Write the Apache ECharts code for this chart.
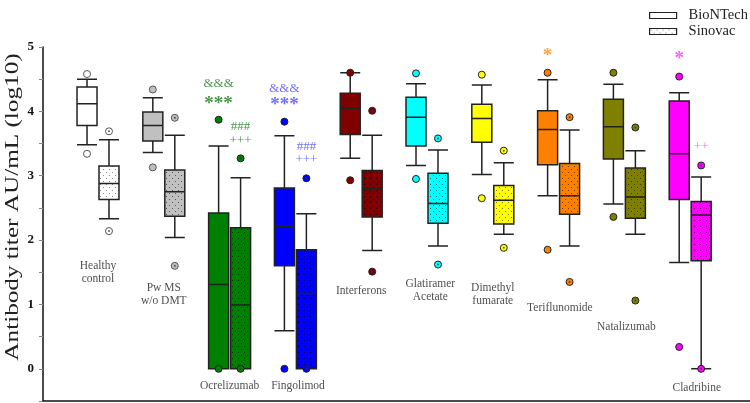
<!DOCTYPE html>
<html><head><meta charset="utf-8">
<script src="https://cdn.jsdelivr.net/npm/echarts@6/dist/echarts.min.js"></script>
<style>html,body{margin:0;padding:0;background:#fff}#c{width:750px;height:403px}</style>
</head><body><div id="c"></div>
<script>
// ---------- data ----------
const categories = ['Healthy\ncontrol','Pw MS\nw/o DMT','Ocrelizumab','Fingolimod','Interferons','Glatiramer\nAcetate','Dimethyl\nfumarate','Teriflunomide','Natalizumab','Cladribine'];
const seriesNames = ['BioNTech','Sinovac'];
// box stats: [min, Q1, median, Q3, max]  (log10 AU/mL)
const biontechBox = [
  [3.48,3.78,4.12,4.38,4.50],
  [3.36,3.54,3.78,3.99,4.21],
  [0.00,0.00,1.31,2.42,3.46],
  [0.59,1.60,2.21,2.81,3.62],
  [3.27,3.64,4.05,4.28,4.60],
  [3.16,3.46,3.91,4.22,4.43],
  [3.02,3.52,3.89,4.11,4.41],
  [2.69,3.17,3.72,4.01,4.49],
  [2.56,3.26,3.76,4.19,4.42],
  [1.65,2.63,3.34,4.16,4.29]
];
const sinovacBox = [
  [2.33,2.63,2.88,3.15,3.56],
  [2.04,2.37,2.75,3.09,3.63],
  [0.00,0.00,0.99,2.19,2.97],
  [0.00,0.00,1.17,1.85,2.41],
  [1.84,2.36,2.80,3.08,3.63],
  [1.91,2.26,2.57,3.04,3.40],
  [2.09,2.25,2.62,2.85,3.20],
  [1.91,2.40,2.69,3.19,3.71],
  [2.09,2.34,2.67,3.12,3.39],
  [0.00,1.68,2.39,2.60,2.98]
];
const biontechOutliers = [[4.58,3.34],[4.34,3.13],[3.87,0],[3.84,0],[4.60,2.93],[4.59,2.95],[4.57,2.65],[4.60,1.85],[4.60,2.36],[4.54,0.34]];
const sinovacOutliers  = [[3.69,2.14],[3.90,1.60],[3.27,0],[2.96,0],[4.01,1.51],[3.58,1.62],[3.39,1.88],[3.91,1.35],[3.75,1.06],[3.16,0]];
const yTickLabels = [0,1,2,3,4,5];
// significance marks: category, vaccine (0 BioNTech / 1 Sinovac), text, level
const sigCats  = [2,2,2,2,3,3,3,3,7,9,9];
const sigSer   = [0,0,1,1,0,0,1,1,0,0,1];
const sigText  = ['&&&','***','###','+++','&&&','***','###','+++','*','*','++'];
const sigLevel = [4.43,4.12,3.76,3.54,4.36,4.09,3.45,3.25,4.86,4.81,3.45];

// ---------- styling / layout ----------
const groupColors = ['#ffffff','#c0c0c0','#008000','#0000ff','#800000','#00ffff','#ffff00','#ff8000','#808000','#ff00ff'];
const sigColors = {2:'#1a7a1a',3:'#4a4aff',7:'#ff8c1a',9:'#ff33ff'};
const OFF = 0.167;
const catLabelPos = [[0,1.50],[1,1.16],[2,-0.26],[3.04,-0.26],[4,1.21],[5.05,1.21],[6,1.16],[7.02,0.95],[8.03,0.65],[9.1,-0.30]];
const SERIF = 'Liberation Serif, Times New Roman, serif';

function pattern(color, dot){
  const c = document.createElement('canvas'); c.width = 6; c.height = 6;
  const g = c.getContext('2d');
  g.fillStyle = color; g.fillRect(0,0,6,6);
  g.fillStyle = dot; g.fillRect(1,1,1,1); g.fillRect(4,4,1,1);
  return {image:c, repeat:'repeat'};
}
const dotCol = i => i === 0 ? '#888' : 'rgba(0,0,0,0.55)';

const chart = echarts.init(document.getElementById('c'), null, {renderer:'canvas'});

const bData = biontechBox.map((b,i)=>({value:[i-OFF].concat(b), itemStyle:{color:groupColors[i]}}));
const sData = sinovacBox.map((b,i)=>({value:[i+OFF].concat(b), itemStyle:{color:pattern(groupColors[i], dotCol(i))}}));

const bOut = [], sOut = [], sOutDot = [];
biontechOutliers.forEach((arr,i)=>arr.forEach(v=>bOut.push({value:[i-OFF,v], itemStyle:{color:groupColors[i], borderColor: i<2?'#555':'#222'}})));
sinovacOutliers.forEach((arr,i)=>arr.forEach(v=>{
  sOut.push({value:[i+OFF,v], itemStyle:{color:groupColors[i], borderColor: i<2?'#555':'#222'}});
  sOutDot.push([i+OFF,v]);
}));

const catLabels = categories.map((c,i)=>({name:c, value:catLabelPos[i]}));
const sigData = sigText.map((t,k)=>{
  const big = t.indexOf('*')>=0;
  return {name:t, value:[sigCats[k] + (sigSer[k]?OFF:-OFF), sigLevel[k]],
    label:{color:sigColors[sigCats[k]], fontSize: big?19:13, fontWeight: big?'bold':'normal', fontFamily: SERIF}};
});

const axisX = (show)=>({type:'value', min:-0.836, max:9.909, show:show,
  axisLine:{show:true, onZero:false, lineStyle:{color:'#111', width:1.5}},
  axisTick:{show:false}, axisLabel:{show:false}, splitLine:{show:false}});

chart.setOption({
  animation:false,
  backgroundColor:'#fff',
  grid:{left:43, right:0, top:47, bottom:2, containLabel:false},
  legend:{
    orient:'vertical', left:644, top:3, itemWidth:27, itemHeight:6, itemGap:1,
    selectedMode:false,
    textStyle:{fontFamily:SERIF, fontSize:14.5, color:'#222', padding:[0,0,0,7]},
    data:[
      {name:'BioNTech', icon:'rect', itemStyle:{color:'#fff', borderColor:'#222', borderWidth:1.2}},
      {name:'Sinovac', icon:'rect', itemStyle:{color:pattern('#fff','#777'), borderColor:'#222', borderWidth:1.2}}
    ]
  },
  xAxis:[axisX(true), axisX(false)],
  yAxis:{
    type:'value', min:-0.5, max:5, interval:0.5,
    axisLine:{show:true, onZero:false, lineStyle:{color:'#111', width:1.5}},
    axisTick:{show:true, length:4, lineStyle:{color:'#888'}},
    splitLine:{show:false},
    axisLabel:{margin:9, fontFamily:SERIF, fontWeight:'bold', fontSize:13, color:'#111',
      formatter:v=>{const r=Math.round(v); return (Math.abs(v-r)<1e-6 && yTickLabels.indexOf(r)>=0)? String(r):'';}}
  },
  graphic:[{type:'text', x:13, y:207, rotation:Math.PI/2, scaleX:1.4,
    style:{text:'Antibody titer AU/mL (log10)', fontFamily:SERIF, fontSize:18, fill:'#222', align:'center', verticalAlign:'middle'}}],
  series:[
    {type:'boxplot', name:seriesNames[0], xAxisIndex:0, boxWidth:[20,20], z:2,
      itemStyle:{color:'#fff', borderColor:'#222', borderWidth:1.5},
      emphasis:{disabled:true}, data:bData},
    {type:'boxplot', name:seriesNames[1], xAxisIndex:1, boxWidth:[20,20], z:2,
      itemStyle:{color:pattern('#fff','#777'), borderColor:'#222', borderWidth:1.5},
      emphasis:{disabled:true}, data:sData},
    {type:'scatter', name:'out1', xAxisIndex:0, symbol:'circle', symbolSize:7, z:5, silent:true,
      itemStyle:{borderWidth:1, opacity:1}, data:bOut},
    {type:'scatter', name:'out2', xAxisIndex:0, symbol:'circle', symbolSize:7, z:5, silent:true,
      itemStyle:{borderWidth:1, opacity:1}, data:sOut},
    {type:'scatter', name:'out2dot', xAxisIndex:0, symbol:'circle', symbolSize:2, z:6, silent:true,
      itemStyle:{color:'#333'}, data:sOutDot},
    {type:'scatter', name:'catlabels', xAxisIndex:0, symbolSize:1, z:7, silent:true,
      itemStyle:{color:'transparent'},
      label:{show:true, position:'inside', formatter:p=>p.name, fontFamily:SERIF, fontSize:11.5, lineHeight:13, color:'#222'},
      data:catLabels},
    {type:'scatter', name:'sig', xAxisIndex:0, symbolSize:1, z:7, silent:true,
      itemStyle:{color:'transparent'},
      label:{show:true, position:'inside', formatter:p=>p.name},
      data:sigData}
  ]
});
</script></body></html>
